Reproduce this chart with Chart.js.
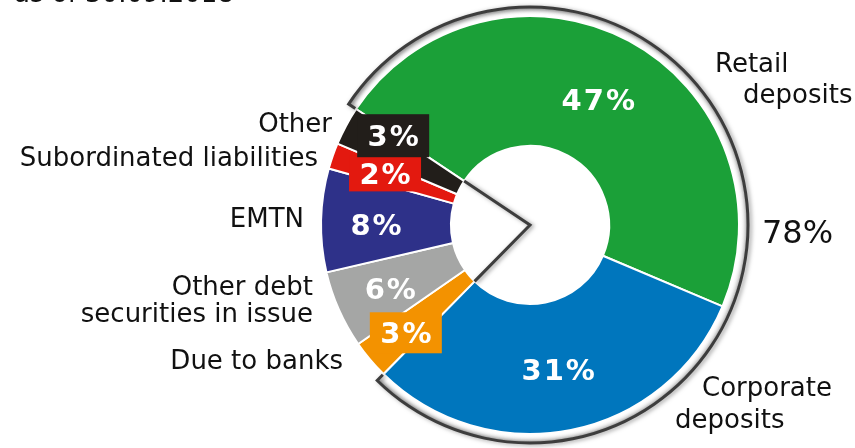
<!DOCTYPE html>
<html>
<head>
<meta charset="utf-8">
<script src="https://cdn.jsdelivr.net/npm/chart.js@4.4.0/dist/chart.umd.min.js"></script>
<style>
  html, body { margin: 0; padding: 0; background: #ffffff; }
  #wrap { width: 855px; height: 448px; position: relative; }
</style>
</head>
<body>
<div id="wrap"><canvas id="funding"></canvas></div>
<script>
// Funding structure, as of 30.09.2018 (shares in %)
const categories = [
  ['Retail', 'deposits'],
  ['Corporate', 'deposits'],
  ['Due to banks'],
  ['Other debt', 'securities in issue'],
  ['EMTN'],
  ['Subordinated liabilities'],
  ['Other']
];
const shares = [47, 31, 3, 6, 8, 2, 3];
const depositIdx = [0, 1];               // segments grouped by the outer bracket
const dateLine = 'as of 30.09.2018';

const colors = ['#1ba038', '#0076bd', '#f39200', '#a5a6a5', '#2e3189', '#e3190f', '#221e1a'];

// label placement (pixel nudges from each slice's centre point, boxed labels get a fill)
const valueStyle = [
  { dx: 0,   dy: 1 },
  { dx: 0,   dy: 3 },
  { dx: -14, dy: 15, box: [72, 41] },
  { dx: -8,  dy: 5 },
  { dx: -10, dy: 3 },
  { dx: -9,  dy: -4, box: [72, 36] },
  { dx: -10, dy: -21, box: [72, 43] }
];
// category captions: x, first baseline, alignment, per-line x shift and line gap
const captionStyle = [
  { x: 715, y: 72,  align: 'left',  shift: [0, 28],  gap: 31 },
  { x: 702, y: 396, align: 'left',  shift: [0, -27], gap: 32 },
  { x: 343, y: 369, align: 'right' },
  { x: 313, y: 295, align: 'right', gap: 27 },
  { x: 304, y: 227, align: 'right' },
  { x: 318, y: 166, align: 'right' },
  { x: 332, y: 132, align: 'right' }
];

const FONT = '"DejaVu Sans", Verdana, sans-serif';

const bracketPlugin = {
  id: 'groupBracket',
  afterDatasetsDraw(chart) {
    const arcs = chart.getDatasetMeta(0).data;
    const a0 = arcs[depositIdx[0]], a1 = arcs[depositIdx[depositIdx.length - 1]];
    const cx = a0.x, cy = a0.y, rOut = a0.outerRadius, rIn = a0.innerRadius;
    const s = a0.startAngle, e = a1.endAngle;
    const ctx = chart.ctx;
    const pt = (r, a) => [cx + r * Math.cos(a), cy + r * Math.sin(a)];
    ctx.save();
    // soft bevel between the ring and the bracket
    const g = ctx.createRadialGradient(cx, cy, rOut + 1, cx, cy, rOut + 8);
    g.addColorStop(0, 'rgba(255,255,255,0)');
    g.addColorStop(1, 'rgba(110,110,110,0.5)');
    ctx.strokeStyle = g;
    ctx.lineWidth = 7;
    ctx.beginPath();
    ctx.arc(cx, cy, rOut + 4.5, s, e);
    ctx.stroke();

    ctx.shadowColor = 'rgba(0,0,0,0.4)';
    ctx.shadowBlur = 4;
    ctx.shadowOffsetX = 2;
    ctx.shadowOffsetY = 1;
    ctx.strokeStyle = '#3d3d3d';
    ctx.lineWidth = 3;
    ctx.lineJoin = 'miter';
    const R = rOut + 9;
    ctx.beginPath();
    ctx.moveTo(...pt(rOut + 1, s));
    ctx.lineTo(...pt(R, s));
    ctx.arc(cx, cy, R, s, e);
    ctx.lineTo(...pt(rOut + 1, e));
    ctx.stroke();

    // wedge edges inside the hole
    ctx.beginPath();
    ctx.moveTo(...pt(rIn, s));
    ctx.lineTo(cx, cy);
    ctx.lineTo(...pt(rIn, e));
    ctx.stroke();
    ctx.restore();
  }
};

const valueLabelPlugin = {
  id: 'valueLabels',
  afterDatasetsDraw(chart) {
    const arcs = chart.getDatasetMeta(0).data;
    const ctx = chart.ctx;
    const size = 29;
    ctx.save();
    ctx.font = 'bold ' + size + 'px ' + FONT;
    if ('letterSpacing' in ctx) ctx.letterSpacing = '2px';
    ctx.textAlign = 'center';
    ctx.textBaseline = 'alphabetic';
    arcs.forEach((arc, i) => {
      const c = arc.getCenterPoint();
      const st = valueStyle[i];
      const x = c.x + st.dx, y = c.y + st.dy;
      if (st.box) {
        ctx.fillStyle = colors[i];
        ctx.fillRect(x - st.box[0] / 2, y - st.box[1] / 2, st.box[0], st.box[1]);
      }
      ctx.fillStyle = '#ffffff';
      ctx.fillText(shares[i] + '%', x + 1, y + size * 0.365);
    });
    ctx.restore();
  }
};

const captionPlugin = {
  id: 'captions',
  afterDraw(chart) {
    const ctx = chart.ctx;
    ctx.save();
    ctx.fillStyle = '#111111';
    ctx.textBaseline = 'alphabetic';
    ctx.font = '26px ' + FONT;
    categories.forEach((lines, i) => {
      const st = captionStyle[i];
      ctx.textAlign = st.align;
      lines.forEach((t, k) => {
        const sx = st.shift ? st.shift[k] : 0;
        ctx.fillText(t, st.x + sx, st.y + k * (st.gap || 30));
      });
    });
    ctx.textAlign = 'left';
    ctx.fillText(dateLine, 14, 2);

    // share of the bracketed group
    const total = depositIdx.reduce((sum, k) => sum + shares[k], 0);
    ctx.font = '32px ' + FONT;
    ctx.fillText(total + '%', 762, 243);
    ctx.restore();
  }
};

new Chart(document.getElementById('funding'), {
  type: 'doughnut',
  data: {
    labels: categories,
    datasets: [{
      data: shares,
      backgroundColor: colors,
      borderColor: '#ffffff',
      borderWidth: 2
    }]
  },
  options: {
    responsive: true,
    maintainAspectRatio: false,
    animation: false,
    events: [],
    rotation: -56.3,
    radius: 209,
    cutout: 84,
    layout: { padding: { left: 205, right: 0, top: 2, bottom: 0 } },
    plugins: {
      legend: { display: false },
      tooltip: { enabled: false }
    }
  },
  plugins: [bracketPlugin, valueLabelPlugin, captionPlugin]
});
</script>
</body>
</html>
